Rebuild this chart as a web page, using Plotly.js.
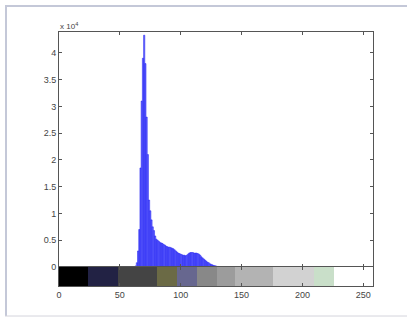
<!DOCTYPE html>
<html>
<head>
<meta charset="utf-8">
<script src="https://cdn.plot.ly/plotly-3.0.1.min.js"></script>
<style>html,body{margin:0;padding:0;background:#fff;}#chart{width:407px;height:320px;}</style>
</head>
<body>
<div id="chart"></div>
<script>
// Histogram: gray level vs pixel count
var intensity = [63,64,65,66,67,68,69,70,71,72,73,74,75,76,77,78,79,80,81,82,83,84,85,86,87,88,89,90,91,92,93,94,95,96,97,98,99,100,101,102,103,104,105,106,107,108,109,110,111,112,113,114,115,116,117,118,119,120,121,122,123,124,125,126,127,128,129,130,131,132];
var counts = [200,800,3000,7000,18500,31000,39000,43300,38000,28000,21000,12500,10500,8800,7500,6800,5800,5200,5000,4800,4600,4500,4400,4200,4100,3900,3800,3700,3700,3600,3500,3400,3200,3000,2800,2600,2500,2400,2300,2200,2200,2100,2200,2400,2600,2700,2700,2700,2600,2600,2600,2500,2400,2200,1900,1700,1500,1300,1100,900,800,600,500,400,300,250,200,100,100,50];

// Colormap strip below the histogram
var cmapEdges = [0,24.1,48.3,80.9,96.8,113.2,129.7,144.7,176.2,209.7,225.6,258];
var cmapColors = ['#000000','#222244','#444444','#6b6a45','#67678f','#888888','#9c9c9c','#b3b3b3','#d2d2d2','#c9dfc9','#ffffff'];

var yTickVals = [0,5000,10000,15000,20000,25000,30000,35000,40000];
var yTickText = ['0','0.5','1','1.5','2','2.5','3','3.5','4'];
var xTickVals = [0,50,100,150,200,250];

var mids = [], widths = [], ones = [];
for (var i = 0; i < cmapColors.length; i++) {
  mids.push((cmapEdges[i] + cmapEdges[i+1]) / 2);
  widths.push(cmapEdges[i+1] - cmapEdges[i]);
  ones.push(1);
}

var W = 407, H = 320;
var L = 59, R = 373, T = 32, MB = 267, CB = 286;
var xd = [L / W, R / W];

var traces = [
  {type: 'bar', x: intensity, y: counts, width: 1, xaxis: 'x', yaxis: 'y',
   marker: {color: 'rgb(110,110,255)', line: {width: 0.5, color: 'rgb(20,20,240)'}}, hoverinfo: 'x+y'},
  {type: 'bar', x: mids, y: ones, width: widths, base: 0, xaxis: 'x2', yaxis: 'y2',
   marker: {color: cmapColors, line: {width: 0}}, hoverinfo: 'none'}
];

var tickFont = {family: 'Liberation Sans, Arial, sans-serif', size: 9, color: '#444'};
var axisCommon = {showgrid: false, zeroline: false, showline: true, linecolor: '#555', linewidth: 1,
  ticks: 'inside', ticklen: 3, tickcolor: '#555', mirror: 'ticks', tickfont: tickFont, fixedrange: true};

var layout = {
  width: W, height: H,
  margin: {l: 0, r: 0, t: 0, b: 0},
  paper_bgcolor: '#ffffff', plot_bgcolor: '#ffffff',
  showlegend: false, bargap: 0,
  xaxis: Object.assign({}, axisCommon, {domain: xd, range: [0, 258], anchor: 'y',
    tickvals: xTickVals, showticklabels: false}),
  yaxis: Object.assign({}, axisCommon, {domain: [(H - MB) / H, (H - T) / H], range: [0, 43900],
    anchor: 'x', tickvals: yTickVals, ticktext: yTickText}),
  xaxis2: Object.assign({}, axisCommon, {domain: xd, range: [0, 258], anchor: 'y2',
    tickvals: xTickVals, showticklabels: true}),
  yaxis2: Object.assign({}, axisCommon, {domain: [(H - CB) / H, (H - MB) / H], range: [0, 1],
    anchor: 'x2', ticks: '', showticklabels: false, mirror: true}),
  annotations: [
    {xref: 'paper', yref: 'paper', x: L / W - 0.003, y: (H - 19) / H, xanchor: 'left', yanchor: 'top',
     text: 'x 10<sup>4</sup>', showarrow: false, font: {family: 'Liberation Sans, Arial, sans-serif', size: 8, color: '#444'}}
  ],
  shapes: [
    {type: 'line', xref: 'paper', yref: 'paper', x0: 5 / W, x1: 1, y0: (H - 6) / H, y1: (H - 6) / H,
     line: {color: '#c4c8d8', width: 2}},
    {type: 'line', xref: 'paper', yref: 'paper', x0: 6 / W, x1: 6 / W, y0: (H - 316) / H, y1: (H - 6) / H,
     line: {color: '#c4c8d8', width: 2}},
    {type: 'line', xref: 'paper', yref: 'paper', x0: 5 / W, x1: 1, y0: (H - 316) / H, y1: (H - 316) / H,
     line: {color: '#d4d4dc', width: 1}}
  ]
};

Plotly.newPlot('chart', traces, layout, {displayModeBar: false, staticPlot: true});
</script>
</body>
</html>
